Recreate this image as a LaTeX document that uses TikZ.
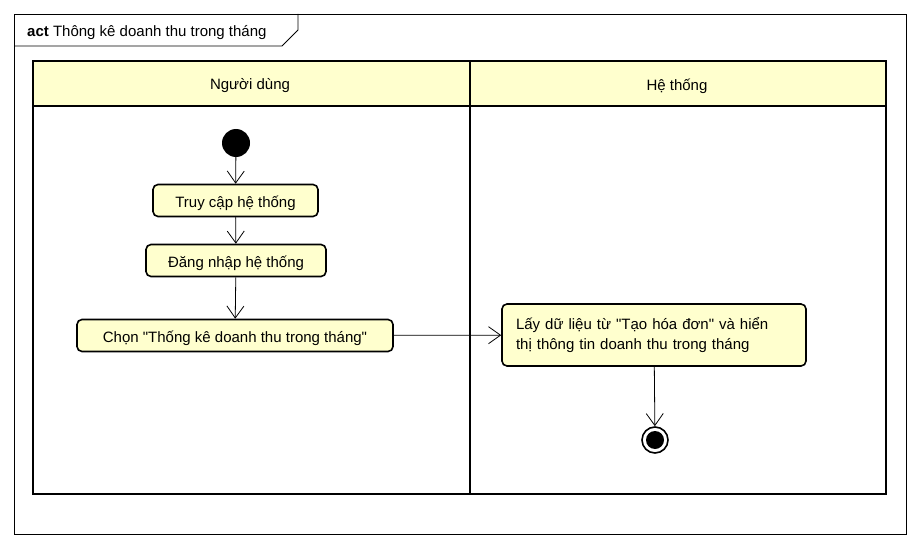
\documentclass[tikz,border=0pt]{standalone}
\usepackage{fontspec}
\setmainfont{Liberation Sans}[Ligatures=TeXOff]
\usetikzlibrary{arrows.meta, positioning}
\definecolor{actfill}{RGB}{255,255,206}

\begin{document}
\begin{tikzpicture}[
        x=1pt, y=-1pt,
        font=\fontsize{15}{20}\selectfont,
        action/.style={draw, line width=1.6pt, rounded corners=5pt, fill=actfill, minimum height=32pt, inner xsep=9pt, inner ysep=0pt, text height=17pt, text depth=3pt},
        lane/.style={draw, line width=2.4pt},
        flow/.style={-{Straight Barb[length=12pt, width=17pt]}, line width=0.8pt}
    ]
    \useasboundingbox (0,0) rectangle (920,548);

    % Frame
    \draw[line width=0.8pt] (14,14) rectangle (906,534);
    \draw[line width=0.8pt] (14,46) -- (282,46) -- (298,30) -- (298,14);
    \node[anchor=west, inner sep=0pt] (title) at (27,33) {\textbf{act} Thông kê doanh thu trong tháng};

    % Swimlanes
    \fill[actfill] (33,61) rectangle (886,106);
    \draw[lane] (33,61) rectangle (886,494);
    \draw[lane] (33,106) -- (886,106);
    \draw[lane] (470,61) -- (470,494);
    \node (user) at (250,86) {Người dùng};
    \node (sys) at (677,86) {Hệ thống};

    % Nodes
    \node[circle, fill=black, minimum size=28pt, inner sep=0pt] (start) at (236,143) {};
    \node[action, minimum width=165pt] (access) at (235.5,200.5) {Truy cập hệ thống};
    \node[action, minimum width=180pt] (login) at (236,260.5) {Đăng nhập hệ thống};
    \node[action, minimum width=316pt] (choose) at (235,335.5) {Chọn "Thống kê doanh thu trong tháng"};
    \node[action, minimum width=304pt, minimum height=62pt, inner xsep=14pt, text height=, text depth=, align=left, text width=276pt] (fetch) at (654,335) {Lấy dữ liệu từ "Tạo hóa đơn" và hiển\\thị thông tin doanh thu trong tháng};
    \node[circle, draw, line width=1.6pt, fill=white, minimum size=26pt, inner sep=0pt] (stop) at (655,440) {};
    \fill (stop.center) circle (9pt);

    % Arrows
    \draw[flow] (start) -- (access);
    \draw[flow] (access) -- (login);
    \draw[flow] (login) -- (choose);
    \draw[flow] (choose) -- (fetch);
    \draw[flow] (fetch) -- (stop);

\end{tikzpicture}
\end{document}
